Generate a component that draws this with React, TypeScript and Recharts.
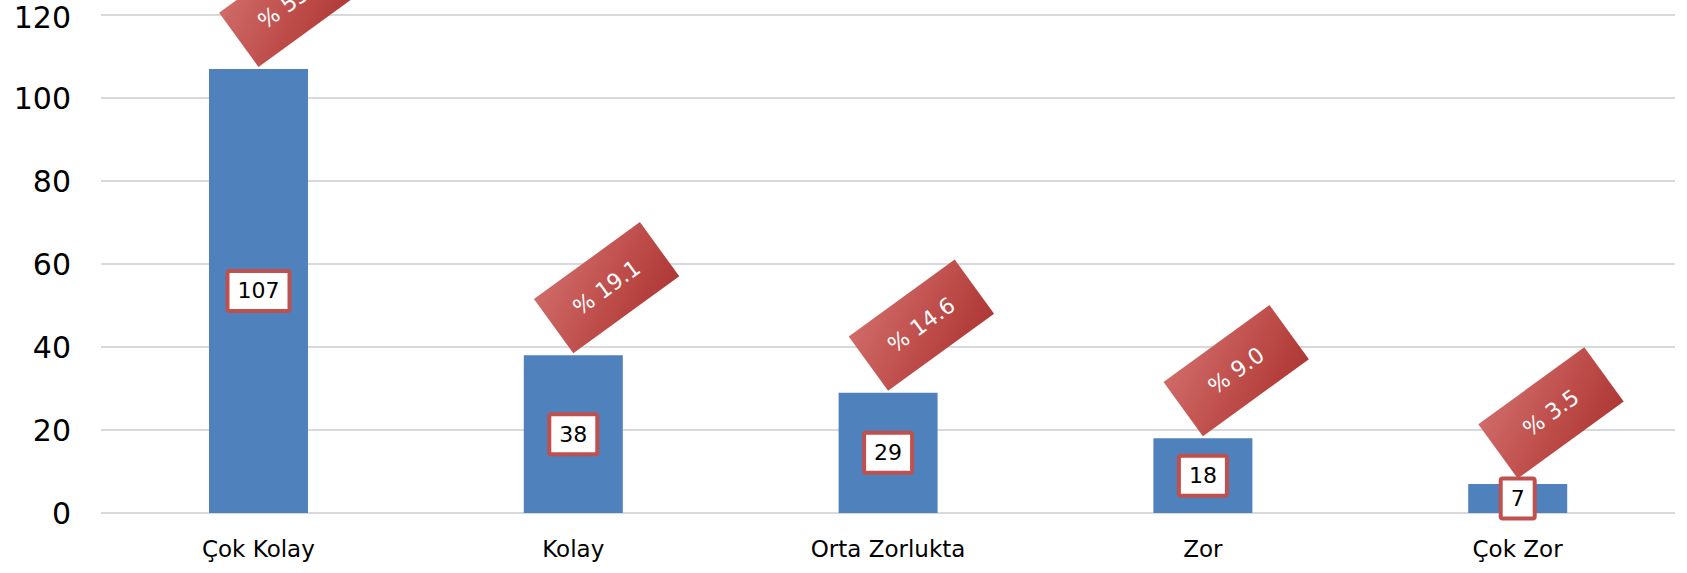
import React from 'react';
import { BarChart, Bar, XAxis, YAxis, CartesianGrid, LabelList } from 'recharts';

const categories = ['Çok Kolay', 'Kolay', 'Orta Zorlukta', 'Zor', 'Çok Zor'];
const counts = [107, 38, 29, 18, 7];
const percents = [53.8, 19.1, 14.6, 9.0, 3.5];
const yTicks = [0, 20, 40, 60, 80, 100, 120];

const data = categories.map((name, i) => ({ name, count: counts[i], pct: percents[i] }));

const FONT = '"DejaVu Sans", sans-serif';
const RED = '#C0504D';

const ValueBox = (props: any) => {
  const { x, y, width, height, value } = props;
  if (x == null) return null;
  const cx = Number(x) + Number(width) / 2;
  const cy = Number(y) + Number(height) / 2;
  const w = String(value).length * 14 + 20;
  const h = 40;
  return (
    <g>
      <rect x={cx - w / 2} y={cy - h / 2} width={w} height={h} fill="#fff" stroke={RED} strokeWidth={4} rx={2} />
      <text x={cx} y={cy} textAnchor="middle" dominantBaseline="central" fontFamily={FONT} fontSize={22} fill="#000">
        {value}
      </text>
    </g>
  );
};

const PctTag = (props: any) => {
  const { x, y, width, height, value } = props;
  if (x == null) return null;
  const cx = Number(x) + Number(width) / 2;
  const top = Number(y);
  const boxTop = top + Number(height) / 2 - 20;
  const ay = Math.min(top - 2, boxTop);
  const w = 131;
  const h = 67;
  return (
    <g transform={`translate(${cx},${ay}) rotate(-36)`}>
      <rect x={0} y={-h} width={w} height={h} fill="url(#tagGrad)" />
      <text x={w / 2} y={-h / 2} textAnchor="middle" dominantBaseline="central" fontFamily={FONT} fontSize={22} fill="#fff">
        {`% ${Number(value).toFixed(1)}`}
      </text>
    </g>
  );
};

export default function App() {
  return (
    <div style={{ width: 1687, height: 573 }}>
      <style>{'body{margin:0}'}</style>
      <BarChart width={1687} height={573} data={data} margin={{ top: 15, right: 12, bottom: 30, left: 0 }}>
        <defs>
          <linearGradient id="tagGrad" x1="0" y1="0" x2="1" y2="1">
            <stop offset="0%" stopColor="#CF6B68" />
            <stop offset="50%" stopColor="#C0504D" />
            <stop offset="100%" stopColor="#AE3835" />
          </linearGradient>
        </defs>
        <CartesianGrid vertical={false} stroke="#D9D9D9" strokeWidth={2} />
        <XAxis
          dataKey="name"
          height={30}
          axisLine={false}
          tickLine={false}
          tickSize={0}
          tickMargin={28}
          tick={{ fontSize: 23, fill: '#000', fontFamily: FONT }}
        />
        <YAxis
          width={101}
          domain={[0, 120]}
          ticks={yTicks}
          axisLine={false}
          tickLine={false}
          tickSize={0}
          tickMargin={30}
          tick={{ fontSize: 30, fill: '#000', fontFamily: FONT }}
        />
        <Bar dataKey="count" fill="#4F81BD" barSize={99} isAnimationActive={false}>
          <LabelList dataKey="pct" content={PctTag} />
          <LabelList dataKey="count" content={ValueBox} />
        </Bar>
      </BarChart>
    </div>
  );
}
